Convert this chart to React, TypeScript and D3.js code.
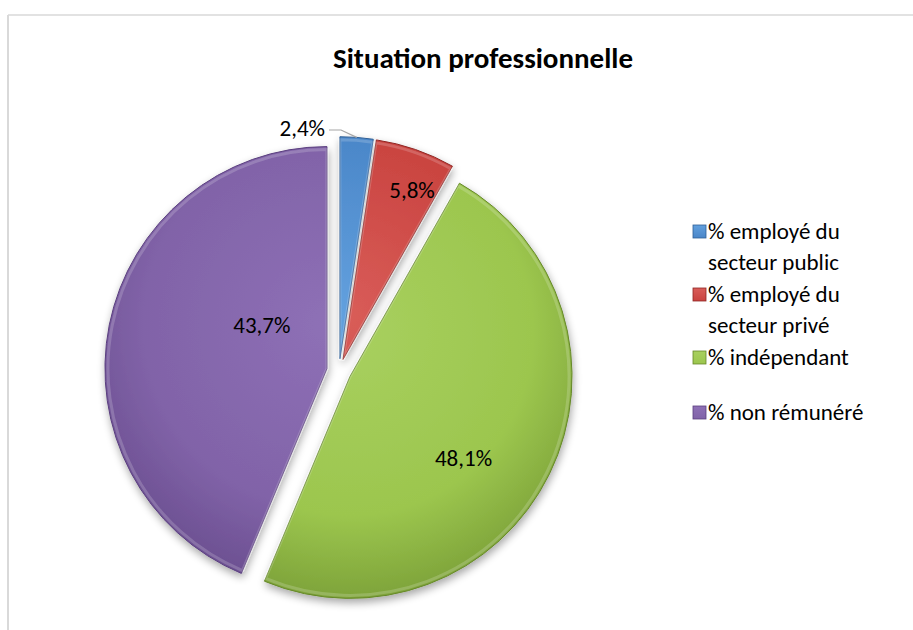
import React from "react";
import * as d3 from "d3";

const categories = [
  "% employé du secteur public",
  "% employé du secteur privé",
  "% indépendant",
  "% non rémunéré",
];
const legendLines = [
  ["% employé du", "secteur public"],
  ["% employé du", "secteur privé"],
  ["% indépendant"],
  ["% non rémunéré"],
];
const values = [2.4, 5.8, 48.1, 43.7];
const valueLabels = ["2,4%", "5,8%", "48,1%", "43,7%"];
const title = "Situation professionnelle";

const colors = ["#4a86c8", "#c9433f", "#9cc64e", "#8163a8"];
const lightColors = ["#62a0de", "#d95d59", "#a8d05f", "#8e70b6"];
const darkColors = ["#2f5f96", "#8f2623", "#66882a", "#5a3f7e"];

const W = 913;
const H = 630;
const cx = 339;
const cy = 371;
const R = 222;
const explode = 12.3;
const FONT = "Carlito, Calibri, 'Liberation Sans', Arial, sans-serif";

// label placement: [radius, angle in degrees clockwise from north] relative to pie center
const labelPolar: [number, number][] = [
  [0, 0],
  [195, 22],
  [152, 125],
  [90, 301],
];

export default function App() {
  const pie = d3.pie<number>().sort(null).value((d) => d)(values);
  const arc = d3.arc<d3.PieArcDatum<number>>().innerRadius(0).outerRadius(R);
  const innerArc = d3.arc<d3.PieArcDatum<number>>().innerRadius(0).outerRadius(R - 3);

  const legendX = 693;
  const legendYs = [231, 294, 357, 412];
  const lineH = 31;

  return (
    <svg
      width={W}
      height={H}
      style={{ position: "absolute", left: 0, top: 0, background: "#fff" }}
      fontFamily={FONT}
    >
      <defs>
        <filter id="shadow" x="-20%" y="-20%" width="140%" height="140%">
          <feGaussianBlur in="SourceAlpha" stdDeviation="4" />
          <feOffset dx="1" dy="4" result="off" />
          <feComponentTransfer>
            <feFuncA type="linear" slope="0.35" />
          </feComponentTransfer>
          <feMerge>
            <feMergeNode />
            <feMergeNode in="SourceGraphic" />
          </feMerge>
        </filter>
        {colors.map((c, i) => (
          <radialGradient
            key={i}
            id={`g${i}`}
            gradientUnits="userSpaceOnUse"
            cx={0}
            cy={-R * 0.2}
            r={R * 1.5}
          >
            <stop offset="0%" stopColor={lightColors[i]} />
            <stop offset="55%" stopColor={c} />
            <stop offset="100%" stopColor={darkColors[i]} />
          </radialGradient>
        ))}
        {colors.map((c, i) => (
          <linearGradient key={"l" + i} id={`lg${i}`} x1="0" y1="0" x2="0" y2="1">
            <stop offset="0%" stopColor={lightColors[i]} />
            <stop offset="100%" stopColor={c} />
          </linearGradient>
        ))}
      </defs>

      {/* chart area border */}
      <line x1={8} y1={15} x2={W} y2={15} stroke="#d9d9d9" strokeWidth={1.5} />
      <line x1={8} y1={15} x2={8} y2={H} stroke="#d9d9d9" strokeWidth={2} />

      <text
        x={483}
        y={68}
        textAnchor="middle"
        fontWeight="bold"
        fontSize={29}
        fill="#000"
      >
        {title}
      </text>

      <g filter="url(#shadow)">
        {pie.map((p, i) => {
          const mid = (p.startAngle + p.endAngle) / 2;
          const dx = explode * Math.sin(mid);
          const dy = -explode * Math.cos(mid);
          return (
            <g key={i} transform={`translate(${cx + dx},${cy + dy})`}>
              <path
                d={arc(p) || ""}
                fill={`url(#g${i})`}
                stroke={darkColors[i]}
                strokeWidth={1}
                strokeLinejoin="round"
              />
              <path
                d={innerArc(p) || ""}
                fill="none"
                stroke="#ffffff"
                strokeOpacity={0.18}
                strokeWidth={3}
                strokeLinejoin="round"
              />
            </g>
          );
        })}
      </g>

      {pie.map((p, i) => {
        if (i === 0) return null;
        const [r, a] = labelPolar[i];
        const ang = (a * Math.PI) / 180;
        return (
          <text
            key={i}
            x={cx + r * Math.sin(ang)}
            y={cy - r * Math.cos(ang)}
            textAnchor="middle"
            dominantBaseline="central"
            fontSize={23}
            fill="#000"
          >
            {valueLabels[i]}
          </text>
        );
      })}

      {/* outside label for the small first slice with leader line */}
      {(() => {
        const p = pie[0];
        const mid = (p.startAngle + p.endAngle) / 2;
        const dx = explode * Math.sin(mid);
        const dy = -explode * Math.cos(mid);
        const ex = cx + dx + R * Math.sin(mid);
        const ey = cy + dy - R * Math.cos(mid);
        const lx = 325;
        const ly = 128;
        return (
          <g>
            <polyline
              points={`${lx + 4},${ly + 2} ${lx + 16},${ly + 2} ${ex},${ey}`}
              fill="none"
              stroke="#a6a6a6"
              strokeWidth={1.2}
            />
            <text
              x={lx}
              y={ly}
              textAnchor="end"
              dominantBaseline="central"
              fontSize={23}
              fill="#000"
            >
              {valueLabels[0]}
            </text>
          </g>
        );
      })()}

      {/* legend */}
      {categories.map((c, i) => (
        <g key={c}>
          <rect
            x={legendX}
            y={legendYs[i] - 6}
            width={13}
            height={13}
            fill={`url(#lg${i})`}
            stroke={darkColors[i]}
            strokeWidth={0.8}
          />
          {legendLines[i].map((ln, j) => (
            <text
              key={j}
              x={legendX + 15}
              y={legendYs[i] + j * lineH}
              dominantBaseline="central"
              fontSize={23}
              fill="#000"
            >
              {ln}
            </text>
          ))}
        </g>
      ))}
    </svg>
  );
}
